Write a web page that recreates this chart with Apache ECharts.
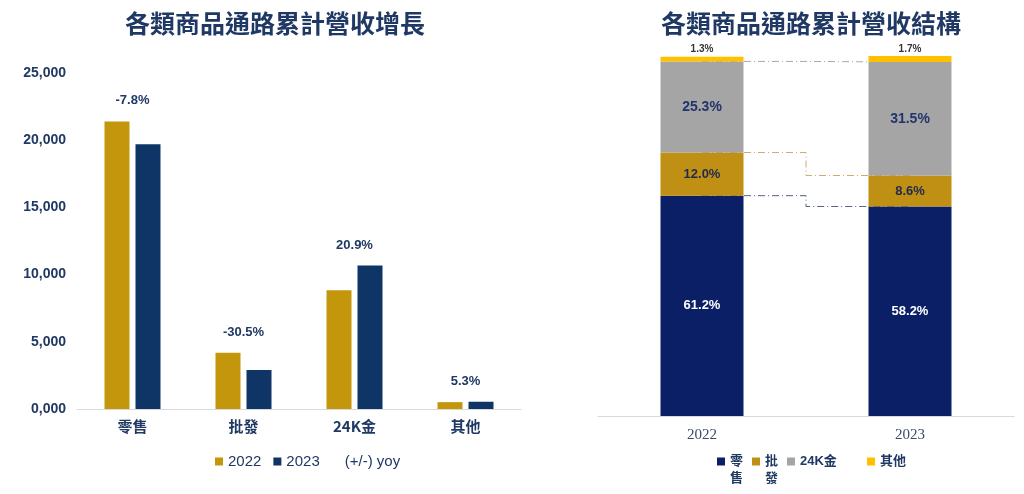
<!DOCTYPE html>
<html>
<head>
<meta charset="utf-8">
<script src="https://cdn.jsdelivr.net/npm/echarts@6/dist/echarts.min.js"></script>
<style>
  html, body { margin: 0; padding: 0; background: #fff; }
  #main { width: 1024px; height: 494px; }
</style>
</head>
<body>
<div id="main"></div>
<script>
// left chart: revenue by channel
var categories = ['零售', '批發', '24K金', '其他'];
var rev2022 = [21400, 4180, 8830, 510];
var rev2023 = [19700, 2900, 10680, 540];
var yoyLabels = ['-7.8%', '-30.5%', '20.9%', '5.3%'];
var yTickLabels = ['0,000', '5,000', '10,000', '15,000', '20,000', '25,000'];

// right chart: revenue mix (%)
var years = ['2022', '2023'];
var shareRetail = [61.2, 58.2];
var shareWholesale = [12.0, 8.6];
var shareGold24k = [25.3, 31.5];
var shareOther = [1.3, 1.7];

var NAVY = '#0e3566';
var GOLD = '#c4960c';
var TXT = '#1f3864';
var SANS = "'Liberation Sans', 'Noto Sans CJK TC', sans-serif";
var CJK = "'Noto Sans CJK TC', 'Liberation Sans', sans-serif";

var dom = document.getElementById('main');
var myChart = echarts.init(dom);

// cumulative boundaries for the dash-dot connectors
var cum1 = [], cum2 = [], cum3 = [];
for (var i = 0; i < years.length; i++) {
    cum1.push(shareRetail[i]);
    cum2.push(shareRetail[i] + shareWholesale[i]);
    cum3.push(shareRetail[i] + shareWholesale[i] + shareGold24k[i]);
}

var yoyData = categories.map(function (c, i) {
    return [i, Math.max(rev2022[i], rev2023[i])];
});

function pct(p) { return p.value.toFixed(1) + '%'; }

function stackSeries(name, data, color, lbl) {
    return {
        name: name, type: 'bar', stack: 'mix',
        xAxisIndex: 1, yAxisIndex: 1,
        barWidth: 83, z: 3,
        itemStyle: { color: color },
        label: Object.assign({ show: true, position: 'inside', formatter: pct,
            fontFamily: SANS, fontWeight: 'bold' }, lbl),
        data: data
    };
}

function connector(data, color) {
    return {
        type: 'line', xAxisIndex: 1, yAxisIndex: 1,
        step: 'middle', symbol: 'none', z: 1, silent: true,
        lineStyle: { color: color, width: 1, type: [7, 3, 1, 3] },
        data: data
    };
}

var option = {
    animation: false,
    textStyle: { fontFamily: SANS },
    title: [{
        text: '各類商品通路累計營收增長',
        left: 270, top: 6, textAlign: 'center',
        textStyle: { fontFamily: CJK, fontSize: 25, fontWeight: 'bold', color: TXT }
    }, {
        text: '各類商品通路累計營收結構',
        left: 806, top: 6, textAlign: 'center',
        textStyle: { fontFamily: CJK, fontSize: 25, fontWeight: 'bold', color: TXT }
    }],
    legend: [{
        data: ['2022', '2023', { name: '(+/-) yoy', itemStyle: { opacity: 0 } }],
        left: 210, top: 449,
        icon: 'rect', itemWidth: 8, itemHeight: 8, itemGap: 12,
        textStyle: { fontSize: 15, color: TXT, fontFamily: SANS }
    }, {
        data: ['零售', '批發', { name: '24K金', textStyle: { width: 58 } }, '其他'],
        // two-character channel names stack vertically, first line level with the icon
        formatter: function (name) {
            return (name === '零售' || name === '批發') ? '\n' + name.split('').join('\n') : name;
        },
        left: 712, top: 431,
        icon: 'rect', itemWidth: 8, itemHeight: 8, itemGap: 9,
        textStyle: { fontSize: 13, fontWeight: 'bold', color: TXT, lineHeight: 17, fontFamily: SANS }
    }],
    grid: [
        { left: 77, width: 444, top: 73, height: 336 },
        { left: 598, width: 416, top: 56, height: 360 }
    ],
    xAxis: [{
        type: 'category', gridIndex: 0, data: categories,
        axisLine: { lineStyle: { color: '#d9d9d9' } },
        axisTick: { lineStyle: { color: '#e3e3e3' }, length: 4 },
        axisLabel: { margin: 10, fontSize: 15, fontWeight: 'bold', color: TXT, fontFamily: CJK }
    }, {
        type: 'category', gridIndex: 1, data: years,
        axisLine: { lineStyle: { color: '#d9d9d9' } },
        axisTick: { show: false },
        axisLabel: { margin: 12, fontSize: 15, color: '#3b4a6b', fontFamily: "'Liberation Serif', serif" }
    }],
    yAxis: [{
        type: 'value', gridIndex: 0, min: 0, max: 25000, interval: 5000,
        splitLine: { show: false }, axisLine: { show: false }, axisTick: { show: false },
        axisLabel: {
            margin: 11, fontSize: 14, fontWeight: 'bold', color: TXT,
            formatter: function (v) { return yTickLabels[Math.round(v / 5000)]; }
        }
    }, {
        type: 'value', gridIndex: 1, min: 0, max: 100, show: false
    }],
    series: [{
        name: '2022', type: 'bar', xAxisIndex: 0, yAxisIndex: 0,
        barWidth: 25, barGap: '24%',
        itemStyle: { color: GOLD },
        data: rev2022
    }, {
        name: '2023', type: 'bar', xAxisIndex: 0, yAxisIndex: 0,
        barWidth: 25, barGap: '24%',
        itemStyle: { color: NAVY },
        data: rev2023
    }, {
        name: '(+/-) yoy', type: 'custom', xAxisIndex: 0, yAxisIndex: 0,
        itemStyle: { color: '#ffffff' },
        renderItem: function (params, api) {
            var p = api.coord([api.value(0), api.value(1)]);
            return {
                type: 'text', x: p[0], y: p[1] - 14,
                style: {
                    text: yoyLabels[params.dataIndex],
                    align: 'center', verticalAlign: 'bottom',
                    fontSize: 13, fontWeight: 'bold', fontFamily: SANS, fill: TXT
                }
            };
        },
        data: yoyData
    },
    stackSeries('零售', shareRetail, '#0b1f66', { color: '#ffffff', fontSize: 13 }),
    stackSeries('批發', shareWholesale, '#c09014', { color: '#1f2a4f', fontSize: 13 }),
    stackSeries('24K金', shareGold24k, '#a5a5a5', { color: '#22346b', fontSize: 14 }),
    stackSeries('其他', shareOther, '#ffc000', { color: '#333333', fontSize: 10, position: 'top', distance: 2 }),
    connector(cum1, '#55627f'),
    connector(cum2, '#c9ad6a'),
    connector(cum3, '#a8a8a8')
    ]
};

if (option && typeof option === 'object') {
    myChart.setOption(option, true);
}
</script>
</body>
</html>
